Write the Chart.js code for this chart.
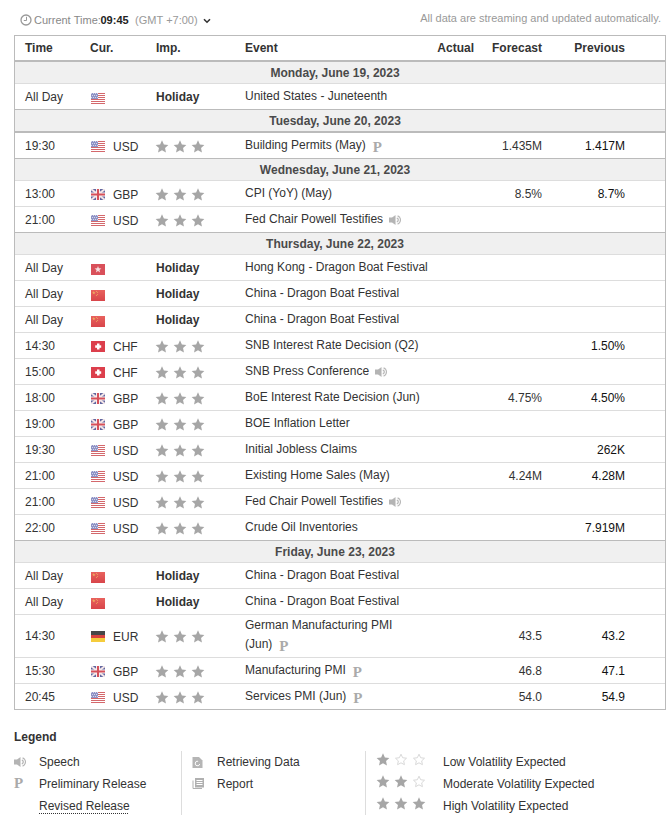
<!DOCTYPE html>
<html><head><meta charset="utf-8">
<style>html,body{margin:0;padding:0;background:#fff;overflow:hidden}canvas{display:block}</style>
<script src="https://cdn.jsdelivr.net/npm/chart.js@4"></script>
</head><body><canvas id="c" width="671" height="815"></canvas>
<script>
// ---------- data ----------
const headers = ["Time","Cur.","Imp.","Event","Actual","Forecast","Previous"];
const dayLabels = ["Monday, June 19, 2023","Tuesday, June 20, 2023","Wednesday, June 21, 2023","Thursday, June 22, 2023","Friday, June 23, 2023"];
const rowsPerDay = [1,1,2,11,5];
const times = ["All Day","19:30","13:00","21:00","All Day","All Day","All Day","14:30","15:00","18:00","19:00","19:30","21:00","21:00","22:00","All Day","All Day","14:30","15:30","20:45"];
const flagCodes = ["US","US","GB","US","HK","CN","CN","CH","CH","GB","GB","US","US","US","US","CN","CN","DE","GB","US"];
const currencies = ["","USD","GBP","USD","","","","CHF","CHF","GBP","GBP","USD","USD","USD","USD","","","EUR","GBP","USD"];
const importance = ["Holiday",3,3,3,"Holiday","Holiday","Holiday",3,3,3,3,3,3,3,3,"Holiday","Holiday",3,3,3];
const events = ["United States - Juneteenth","Building Permits (May)","CPI (YoY) (May)","Fed Chair Powell Testifies","Hong Kong - Dragon Boat Festival","China - Dragon Boat Festival","China - Dragon Boat Festival","SNB Interest Rate Decision (Q2)","SNB Press Conference","BoE Interest Rate Decision (Jun)","BOE Inflation Letter","Initial Jobless Claims","Existing Home Sales (May)","Fed Chair Powell Testifies","Crude Oil Inventories","China - Dragon Boat Festival","China - Dragon Boat Festival","German Manufacturing PMI\n(Jun)","Manufacturing PMI","Services PMI (Jun)"];
const eventMarks = ["","P","","S","","","","","S","","","","","S","","","","P","P","P"];
const forecasts = ["","1.435M","8.5%","","","","","","","4.75%","","","4.24M","","","","","43.5","46.8","54.0"];
const previous = ["","1.417M","8.7%","","","","","1.50%","","4.50%","","262K","4.28M","","7.919M","","","43.2","47.1","54.9"];
const topLeft = ["Current Time:","09:45","(GMT +7:00)"];
const topRight = "All data are streaming and updated automatically.";
const legendTitle = "Legend";
const legendMarks = ["Speech","Preliminary Release","Revised Release"];
const legendStatus = ["Retrieving Data","Report"];
const legendVolatility = ["Low Volatility Expected","Moderate Volatility Expected","High Volatility Expected"];
const legendStars = [1,2,3];

// ---------- icon sprites (used as Chart.js point styles) ----------
function sprite(w,h,draw){const c=document.createElement('canvas');c.width=w;c.height=h;draw(c.getContext('2d'),w,h);return c;}
function starPath(g,cx,cy,R,r){g.beginPath();for(let i=0;i<10;i++){const a=-Math.PI/2+i*Math.PI/5,q=i%2?r:R;g.lineTo(cx+q*Math.cos(a),cy+q*Math.sin(a));}g.closePath();}
const starFull = sprite(14,14,g=>{starPath(g,7,7,6.7,3.2);g.fillStyle='#a6a6a6';g.fill();});
const starEmpty = sprite(14,14,g=>{starPath(g,7,7,5.8,2.8);g.strokeStyle='#d8d8d8';g.lineWidth=1;g.stroke();});
const speaker = sprite(12,12,g=>{g.fillStyle='#b4b4b4';g.fillRect(0,3.5,3,5);g.beginPath();g.moveTo(3,3.5);g.lineTo(6.5,1);g.lineTo(6.5,11);g.lineTo(3,8.5);g.fill();g.strokeStyle='#b4b4b4';g.lineWidth=1.2;g.beginPath();g.arc(7,6,2.2,-1.2,1.2);g.stroke();g.beginPath();g.arc(7,6,4.4,-1.2,1.2);g.stroke();});
const clock = sprite(12,12,g=>{g.strokeStyle='#999';g.lineWidth=1.3;g.beginPath();g.arc(6,6,5,0,7);g.stroke();g.lineWidth=1;g.beginPath();g.moveTo(6.5,2.8);g.lineTo(6.5,6.5);g.lineTo(3.8,6.5);g.stroke();});
const chevron = sprite(8,6,g=>{g.strokeStyle='#333';g.lineWidth=1.6;g.beginPath();g.moveTo(1,1.2);g.lineTo(4,4.2);g.lineTo(7,1.2);g.stroke();});
const docIcon = sprite(11,11,g=>{g.fillStyle='#b5b5b5';g.beginPath();g.moveTo(0.5,0);g.lineTo(7,0);g.lineTo(10.5,3.5);g.lineTo(10.5,11);g.lineTo(.5,11);g.fill();g.strokeStyle='#fff';g.lineWidth=1;g.beginPath();g.arc(5.5,6.5,2.3,0.2,5);g.stroke();});
const reportIcon = sprite(12,11,g=>{g.fillStyle='#b0b0b0';g.fillRect(3,0,9,9.5);g.fillStyle='#fff';g.fillRect(4.5,2,6,1);g.fillRect(4.5,4,6,1);g.fillRect(4.5,6,6,1);g.strokeStyle='#b0b0b0';g.lineWidth=1;g.beginPath();g.moveTo(1,2.5);g.lineTo(1,10.5);g.lineTo(10,10.5);g.stroke();});
const flagSprites = {
 US:sprite(14,11,g=>{g.fillStyle='#fff';g.fillRect(0,0,14,11);g.fillStyle='#d4686c';for(let i=0;i<11;i+=2)g.fillRect(0,i,14,1);g.fillStyle='#8f93c6';g.fillRect(0,0,7,6);g.fillStyle='#d4d6ea';for(let y=0;y<6;y+=2)for(let x=(y%4?1:0);x<7;x+=2)g.fillRect(x,y,1,1);}),
 GB:sprite(14,11,g=>{g.fillStyle='#6267a0';g.fillRect(0,0,14,11);g.strokeStyle='#f4e6e8';g.lineWidth=2;g.beginPath();g.moveTo(0,0);g.lineTo(14,11);g.moveTo(14,0);g.lineTo(0,11);g.stroke();g.fillStyle='#f6eeee';g.fillRect(5,0,4,11);g.fillRect(0,3.5,14,4);g.fillStyle='#d6505a';g.fillRect(6,0,2,11);g.fillRect(0,4.5,14,2);}),
 HK:sprite(14,11,g=>{g.fillStyle='#d9505a';g.fillRect(0,0,14,11);starPath(g,7,5.5,3.6,1.5);g.fillStyle='#f6dfe0';g.fill();}),
 CN:sprite(14,11,g=>{const l=g.createLinearGradient(0,0,0,11);l.addColorStop(0,'#e8625e');l.addColorStop(1,'#d8454a');g.fillStyle=l;g.fillRect(0,0,14,11);g.fillStyle='#eeb560';starPath(g,2.8,2.8,1.7,.7);g.fill();g.globalAlpha=.7;g.fillRect(5,1,1,1);g.fillRect(6,2,1,1);g.fillRect(6,4,1,1);g.fillRect(5,5,1,1);}),
 CH:sprite(14,11,g=>{g.fillStyle='#dc3f4c';g.fillRect(0,0,14,11);g.fillStyle='#fff';g.fillRect(6,2.5,2.5,6);g.fillRect(4.2,4.3,6,2.5);}),
 DE:sprite(14,11,g=>{g.fillStyle='#474747';g.fillRect(0,0,14,4);g.fillStyle='#d8423e';g.fillRect(0,4,14,3);g.fillStyle='#f5cc3c';g.fillRect(0,7,14,4);})
};

// ---------- layout ----------
const measure=document.createElement('canvas').getContext('2d');
const FONT='"Liberation Sans", Arial, sans-serif';
const F11=`11px ${FONT}`,F12=`12px ${FONT}`,B12=`bold 12px ${FONT}`,PF=`bold 15px "Liberation Serif", serif`;
const W=671,H=815,L=14,R=665;
const rules=[],bands=[],rowBottoms=[];
let y=61,n=0;
rules.push({y:35,h:1,c:'#bbb'},{y:60,h:2,c:'#bbb'});
const dayText=[];
rowsPerDay.forEach((cnt,d)=>{
  const top=y;y+=22;
  bands.push({y:top+(d==1?0:1),h:y-top});
  dayText.push({x:335,y:y-6,t:dayLabels[d]});
  if(d>0){rules.push({y:top,h:1,c:'#bbb'});}
  if(d==1){rules.push({y:y,h:2,c:'#bbb'});}else rules.push({y:y,h:1,c:'#ddd'});
  for(let i=0;i<cnt;i++,n++){
    y+=events[n].includes('\n')?43:(d==1?27:26);
    rowBottoms.push(y);
    if(i<cnt-1)rules.push({y:y,h:1,c:'#ddd'});
    else if(d==4)rules.push({y:y,h:1,c:'#bbb'});
  }
});
const shift=i=>events[i].includes('\n')?9:0;
function col(values,x,off,font,color,align){return values.map((t,i)=>t===""||typeof t==='number'?null:{x,y:rowBottoms[i]-off-shift(i),t,font,color,align:align||'left'}).filter(Boolean);}
const evPts=[];const starPts=[],flagPts=[],spkPts=[],pPts=[];
events.forEach((e,i)=>{
  const parts=e.split('\n'),b=rowBottoms[i];
  parts.forEach((p,k)=>evPts.push({x:245,y:b-9-(parts.length-1-k)*19,t:p,font:F12,color:'#333'}));
  measure.font=F12;const end=245+measure.measureText(parts[parts.length-1]).width;
  if(eventMarks[i]==='P')pPts.push({x:end+7,y:b-6,t:'P',font:PF,color:'#aaa'});
  if(eventMarks[i]==='S')spkPts.push({x:end+12,y:b-12});
  if(typeof importance[i]==='number')for(let s=0;s<importance[i];s++)starPts.push({x:162+18*s,y:b-11-shift(i)});
  flagPts.push({x:98,y:b-(typeof importance[i]==='number'?11.5:10.5)-shift(i),f:flagCodes[i]});
});
const headerXs=[[25,'left'],[90,'left'],[156,'left'],[245,'left'],[474,'right'],[542,'right'],[625,'right']];
const headPts=headers.map((t,i)=>({x:headerXs[i][0],y:52,t,font:B12,color:'#333',align:headerXs[i][1]}));
const topPts=[
 {x:34,y:24,t:topLeft[0],font:F11,color:'#888'},
 {x:100.5,y:24,t:topLeft[1],font:`bold 11px ${FONT}`,color:'#222'},
 {x:135,y:24,t:topLeft[2],font:F11,color:'#999'},
 {x:661,y:22,t:topRight,font:F11,color:'#999',align:'right'}];
const legendPts=[{x:14,y:741,t:legendTitle,font:B12,color:'#333'}];
legendMarks.forEach((t,i)=>legendPts.push({x:39,y:766+22*i,t,font:F12,color:'#333'}));
legendStatus.forEach((t,i)=>legendPts.push({x:217,y:766+22*i,t,font:F12,color:'#333'}));
legendVolatility.forEach((t,i)=>legendPts.push({x:443,y:766+22*i,t,font:F12,color:'#333'}));
legendPts.push({x:14,y:788,t:'P',font:PF,color:'#aaa'});
const legFull=[],legEmpty=[];
legendStars.forEach((c,i)=>{for(let s=0;s<3;s++)(s<c?legFull:legEmpty).push({x:383+18*s,y:760+22*i});});
const textSets=[
 headPts,
 dayText.map(d=>({...d,font:B12,color:'#4a4a4a',align:'center'})),
 col(times,25,8,F12,'#333'),
 col(currencies,113,7,F12,'#333'),
 col(importance,156,8,B12,'#333'),
 evPts,pPts,
 col(forecasts,542,8,F12,'#333','right'),
 col(previous,625,8,F12,'#111','right'),
 topPts,legendPts];
const img=(label,data,style)=>({type:'scatter',label,data,pointStyle:style,pointRadius:6,pointHoverRadius:6,showLine:false,borderWidth:0,backgroundColor:'transparent',clip:false});
const textDs=(d,i)=>({type:'scatter',label:'text'+i,data:d,pointRadius:0,isText:true,clip:false});
const flagDatasets=Object.keys(flagSprites).map(k=>img('flag'+k,flagPts.filter(p=>p.f===k),flagSprites[k]));

const tablePlugin={id:'table',
 beforeDraw(ch){const g=ch.ctx,X=ch.scales.x,Y=ch.scales.y;
  g.save();g.fillStyle='#fff';g.fillRect(0,0,W,H);
  const rx=v=>X.getPixelForValue(v),ry=v=>Y.getPixelForValue(v);
  g.fillStyle='#f0f0f0';bands.forEach(b=>g.fillRect(rx(L+1),ry(b.y),rx(R)-rx(L+1),ry(b.y+b.h)-ry(b.y)));
  rules.forEach(r=>{g.fillStyle=r.c;g.fillRect(rx(L),ry(r.y),rx(R+1)-rx(L),ry(r.y+r.h)-ry(r.y));});
  g.fillStyle='#bbb';g.fillRect(rx(L),ry(35),1,ry(710)-ry(35));g.fillRect(rx(R),ry(35),1,ry(710)-ry(35));
  g.fillStyle='#ddd';g.fillRect(rx(181),ry(751),1,ry(815)-ry(751));g.fillRect(rx(365),ry(751),1,ry(815)-ry(751));
  g.restore();},
 afterDatasetsDraw(ch){const g=ch.ctx;g.save();g.textBaseline='alphabetic';
  ch.data.datasets.forEach((ds,i)=>{if(!ds.isText)return;const m=ch.getDatasetMeta(i);
   m.data.forEach((el,k)=>{const p=ds.data[k];g.font=p.font;g.fillStyle=p.color;g.textAlign=p.align||'left';g.fillText(p.t,el.x,el.y);});});
  const X=ch.scales.x,Y=ch.scales.y;g.fillStyle='#333';for(let x=39;x<129;x+=2)g.fillRect(X.getPixelForValue(x),Y.getPixelForValue(813),1,1);
  g.restore();}
};
const ctx=document.getElementById('c').getContext('2d',{alpha:false});
new Chart(ctx,{type:'scatter',
 data:{datasets:[
  img('stars',starPts,starFull),
  ...flagDatasets,
  img('speaker',spkPts,speaker),
  img('clock',[{x:26,y:20}],clock),
  img('chevron',[{x:207,y:21}],chevron),
  img('legendSpeaker',[{x:20,y:762}],speaker),
  img('doc',[{x:197.5,y:762.5}],docIcon),
  img('report',[{x:198,y:783.5}],reportIcon),
  img('legendFull',legFull,starFull),
  img('legendEmpty',legEmpty,starEmpty),
  ...textSets.map(textDs)
 ]},
 options:{responsive:false,animation:false,devicePixelRatio:1,events:[],layout:{padding:0,autoPadding:false},
  plugins:{legend:{display:false},tooltip:{enabled:false},title:{display:false}},
  scales:{x:{type:'linear',display:false,min:0,max:W,offset:false},y:{type:'linear',display:false,reverse:true,min:0,max:H}}},
 plugins:[tablePlugin]});
</script></body></html>
